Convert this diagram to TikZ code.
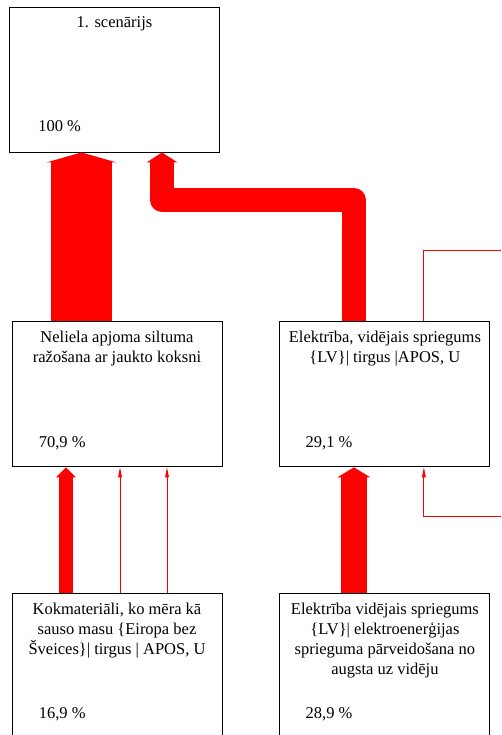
\documentclass[tikz,border=0pt]{standalone}
\usepackage{fontspec}
\setmainfont{Liberation Serif}
\usetikzlibrary{arrows.meta, positioning}

\begin{document}
\begin{tikzpicture}[
x=1pt, y=1pt,
node distance=126pt and 57pt,
box/.style={draw, line width=0.9pt, rectangle, minimum width=210pt, minimum height=145pt, inner sep=0pt},
boxtext/.style={align=center, inner sep=0pt, anchor=north, font=\fontsize{16.5}{20}\selectfont},
pct/.style={inner sep=0pt, anchor=base west, font=\fontsize{16.5}{20}\selectfont},
flow/.style 2 args={draw=red, line width=#1, line join=round, -{Triangle[length=10pt, width=#2, line width=0pt]}},
trace/.style={draw=red, line width=0.9pt, -{Triangle[length=10pt, width=4pt, line width=0pt]}}
]
\clip (0,0) rectangle (501,-735);

\node[box] (scen) at (114.5,-79.5) {};
\node[box, below=169pt of scen, xshift=2.5pt] (heat) {};
\node[box, right=of heat] (elec) {};
\node[box, below=of heat] (wood) {};
\node[box, below=of elec] (trafo) {};

\node[boxtext] (scen-t) at ([yshift=-7pt]scen.north) {\strut 1. scenārijs};
\node[boxtext] (heat-t) at ([yshift=-7pt]heat.north) {\strut Neliela apjoma siltuma\\ražošana ar jaukto koksni};
\node[boxtext] (elec-t) at ([yshift=-7pt]elec.north) {\strut Elektrība, vidējais spriegums\\\{LV\}| tirgus |APOS, U};
\node[boxtext] (wood-t) at ([yshift=-7pt]wood.north) {\strut Kokmateriāli, ko mēra kā\\sauso masu \{Eiropa bez\\Šveices\}| tirgus | APOS, U};
\node[boxtext] (trafo-t) at ([yshift=-7pt]trafo.north) {\strut Elektrība vidējais spriegums\\\{LV\}| elektroenerģijas\\sprieguma pārveidošana no\\augsta uz vidēju};

\node[pct] (scen-p) at ([xshift=29pt, yshift=21pt]scen.south west) {100 \%};
\node[pct] (heat-p) at ([xshift=27pt, yshift=20pt]heat.south west) {70,9 \%};
\node[pct] (elec-p) at ([xshift=26pt, yshift=20pt]elec.south west) {29,1 \%};
\node[pct] (wood-p) at ([xshift=27pt, yshift=21pt]wood.south west) {16,9 \%};
\node[pct] (trafo-p) at ([xshift=26pt, yshift=21pt]trafo.south west) {28,9 \%};

% flows into the scenario
\draw[flow={61pt}{70pt}] ([xshift=-35.5pt]heat.north) -- ([xshift=-35.5pt]heat.north |- scen.south);
\draw[flow={24pt}{31pt}] ([xshift=-31pt]elec.north) -- ++(0,121.5) -| ([xshift=47.5pt]scen.south);

% inputs
\draw[flow={14pt}{20pt}] ([xshift=-51pt]wood.north) -- ([xshift=-51pt]heat.south);
\draw[flow={26pt}{33pt}] ([xshift=-31pt]trafo.north) -- ([xshift=-31pt]elec.south);
\draw[trace] ([xshift=3pt]wood.north) -- ([xshift=3pt]heat.south);
\draw[trace] ([xshift=50pt]wood.north) -- ([xshift=50pt]heat.south);

\coordinate (out) at (501,-250);
\coordinate (in) at (501,-516);
\draw[trace, -] ([xshift=39pt]elec.north) |- (out);
\draw[trace] (in) -| ([xshift=39pt]elec.south);
\end{tikzpicture}
\end{document}
